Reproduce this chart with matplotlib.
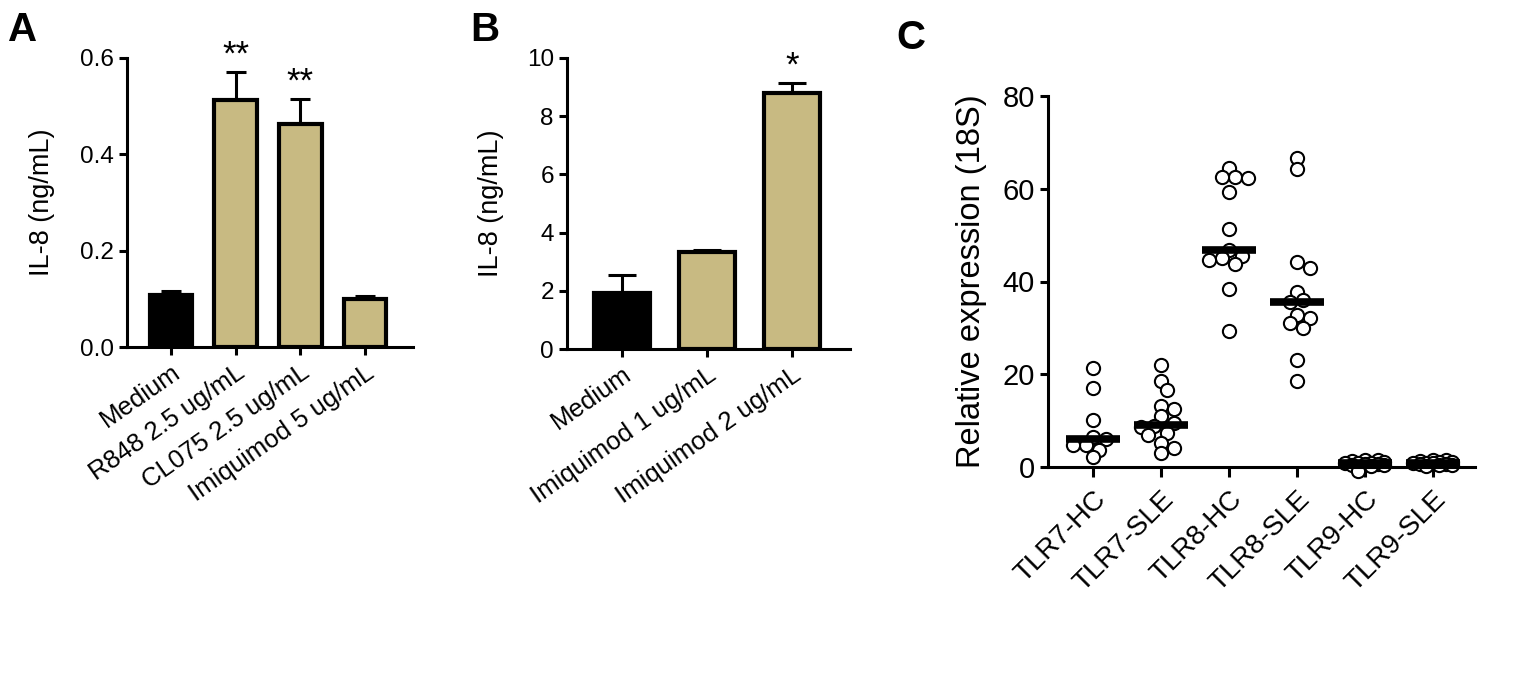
import numpy as np
import matplotlib
matplotlib.use("Agg")
from matplotlib import pyplot as plt

plt.rcParams['font.family'] = ['Liberation Sans', 'DejaVu Sans']

# ---------------- data ----------------
# panel A
a_labels = ["Medium", "R848 2.5 ug/mL", "CL075 2.5 ug/mL", "Imiquimod 5 ug/mL"]
a_values = [0.107, 0.513, 0.463, 0.100]
a_errors = [0.010, 0.058, 0.052, 0.006]
a_stars = ["", "**", "**", ""]

# panel B
b_labels = ["Medium", "Imiquimod 1 ug/mL", "Imiquimod 2 ug/mL"]
b_values = [1.93, 3.34, 8.81]
b_errors = [0.60, 0.05, 0.33]
b_stars = ["", "", "*"]

# panel C
c_labels = ["TLR7-HC", "TLR7-SLE", "TLR8-HC", "TLR8-SLE", "TLR9-HC", "TLR9-SLE"]
tlr7_hc = [21.3, 17.1, 10.2, 6.4, 6.1, 4.7, 4.7, 3.7, 2.1]
tlr7_sle = [22.0, 18.5, 16.7, 13.1, 12.4, 10.9, 9.5, 8.8, 8.6, 7.3, 7.0, 5.2, 4.1, 3.0]
tlr8_hc = [64.4, 62.6, 62.5, 62.3, 59.4, 51.3, 46.8, 45.4, 45.0, 44.7, 43.8, 38.3, 29.4]
tlr8_sle = [66.6, 64.2, 44.3, 42.9, 37.8, 36.0, 35.5, 32.8, 32.1, 31.0, 29.9, 23.1, 18.5]
tlr9_hc = [1.6, 1.5, 1.2, 1.0, 0.9, 0.8, 0.8, 0.7, 0.6, 0.5, 0.4, 0.3, -0.8]
tlr9_sle = [1.6, 1.5, 1.3, 1.1, 1.0, 0.9, 0.9, 0.8, 0.7, 0.6, 0.5, 0.4, 0.3]
c_groups = [tlr7_hc, tlr7_sle, tlr8_hc, tlr8_sle, tlr9_hc, tlr9_sle]

GOLD = '#C8BA82'
LW = 2.2


def style_axes(ax):
    for s in ['top', 'right']:
        ax.spines[s].set_visible(False)
    for s in ['left', 'bottom']:
        ax.spines[s].set_linewidth(LW)
    ax.tick_params(width=LW, length=6, direction='out')


def bar_panel(ax, labels, values, errors, stars, ylim, yticks, fmt, capsize, lpad):
    x = np.arange(len(values))
    colors = ['black'] + [GOLD] * (len(values) - 1)
    ax.bar(x, values, width=0.66, color=colors, edgecolor='black', linewidth=3, zorder=2)
    ax.errorbar(x, values, yerr=[np.zeros(len(errors)), errors], fmt='none',
                ecolor='black', elinewidth=LW, capsize=capsize, capthick=LW, zorder=1)
    for xi, v, e, s in zip(x, values, errors, stars):
        if s:
            ax.annotate(s, (xi, v + e), xytext=(0, 0), textcoords='offset points',
                        ha='center', va='bottom', fontsize=25)
    ax.set_ylim(*ylim)
    ax.set_yticks(yticks)
    ax.set_yticklabels([fmt.format(t) for t in yticks], fontsize=17.5)
    ax.set_xticks(x)
    ax.set_xticklabels(labels, rotation=35, ha='right', rotation_mode='anchor', fontsize=18.5)
    ax.set_ylabel("IL-8 (ng/mL)", fontsize=19.5, labelpad=lpad)
    style_axes(ax)


def swarm(vals, xdiam, ydiam, maxoff=0.3):
    # simple beeswarm: place each point at the smallest free offset
    placed = []
    order = np.argsort(vals)[::-1]
    res = np.zeros(len(vals))
    cands = [0.0]
    k = 1
    while k * 0.5 * xdiam <= maxoff:
        cands += [k * 0.5 * xdiam, -k * 0.5 * xdiam]
        k += 1
    for i in order:
        y = vals[i]
        best, bestd = 0.0, -1
        for c in cands:
            dmin = min([np.hypot((c - px) / xdiam, (y - py) / ydiam) for px, py in placed] + [9])
            if dmin >= 0.75:
                best = c
                break
            if dmin > bestd:
                best, bestd = c, dmin
        placed.append((best, y))
        res[i] = best
    return res


fig = plt.figure(figsize=(15.35, 6.88), dpi=100)

# ---------------- A ----------------
axA = fig.add_axes([127 / 1535, 1 - 347 / 688, 286 / 1535, 289 / 688])
bar_panel(axA, a_labels, a_values, a_errors, a_stars, (0, 0.6),
          [0.0, 0.2, 0.4, 0.6], "{:.1f}", 7, 18)
axA.set_xlim(-0.68, 3.74)

# ---------------- B ----------------
axB = fig.add_axes([567 / 1535, 1 - 349 / 688, 283 / 1535, 291 / 688])
bar_panel(axB, b_labels, b_values, b_errors, b_stars, (0, 10),
          [0, 2, 4, 6, 8, 10], "{:d}", 10, 16)
axB.set_xlim(-0.65, 2.68)

# ---------------- C ----------------
axC = fig.add_axes([1048 / 1535, 1 - 467 / 688, 427 / 1535, 371 / 688])
for i, g in enumerate(c_groups):
    g = np.array(g)
    offs = swarm(g, 0.19, 2.8)
    axC.plot(i + offs, g, 'o', ms=9.5, mfc='white', mec='black', mew=1.5,
             zorder=2, clip_on=False)
    axC.plot([i - 0.4, i + 0.4], [np.median(g)] * 2, color='black',
             lw=5.5, solid_capstyle='butt', zorder=3)
axC.set_ylim(0, 80)
axC.set_xlim(-0.66, 5.62)
axC.set_yticks([0, 20, 40, 60, 80])
axC.set_yticklabels(["0", "20", "40", "60", "80"], fontsize=21)
axC.set_xticks(np.arange(len(c_labels)))
axC.set_xticklabels(c_labels, rotation=45, ha='right', rotation_mode='anchor', fontsize=20)
axC.set_ylabel("Relative expression (18S)", fontsize=23.5, labelpad=11)
style_axes(axC)
axC.tick_params(axis='x', length=7, pad=7)

# panel letters
fig.text(8 / 1535, 1 - 41 / 688, "A", fontsize=29, fontweight='bold')
fig.text(470 / 1535, 1 - 41 / 688, "B", fontsize=29, fontweight='bold')
fig.text(896 / 1535, 1 - 49 / 688, "C", fontsize=29, fontweight='bold')

fig.savefig("out.png", dpi=100)
